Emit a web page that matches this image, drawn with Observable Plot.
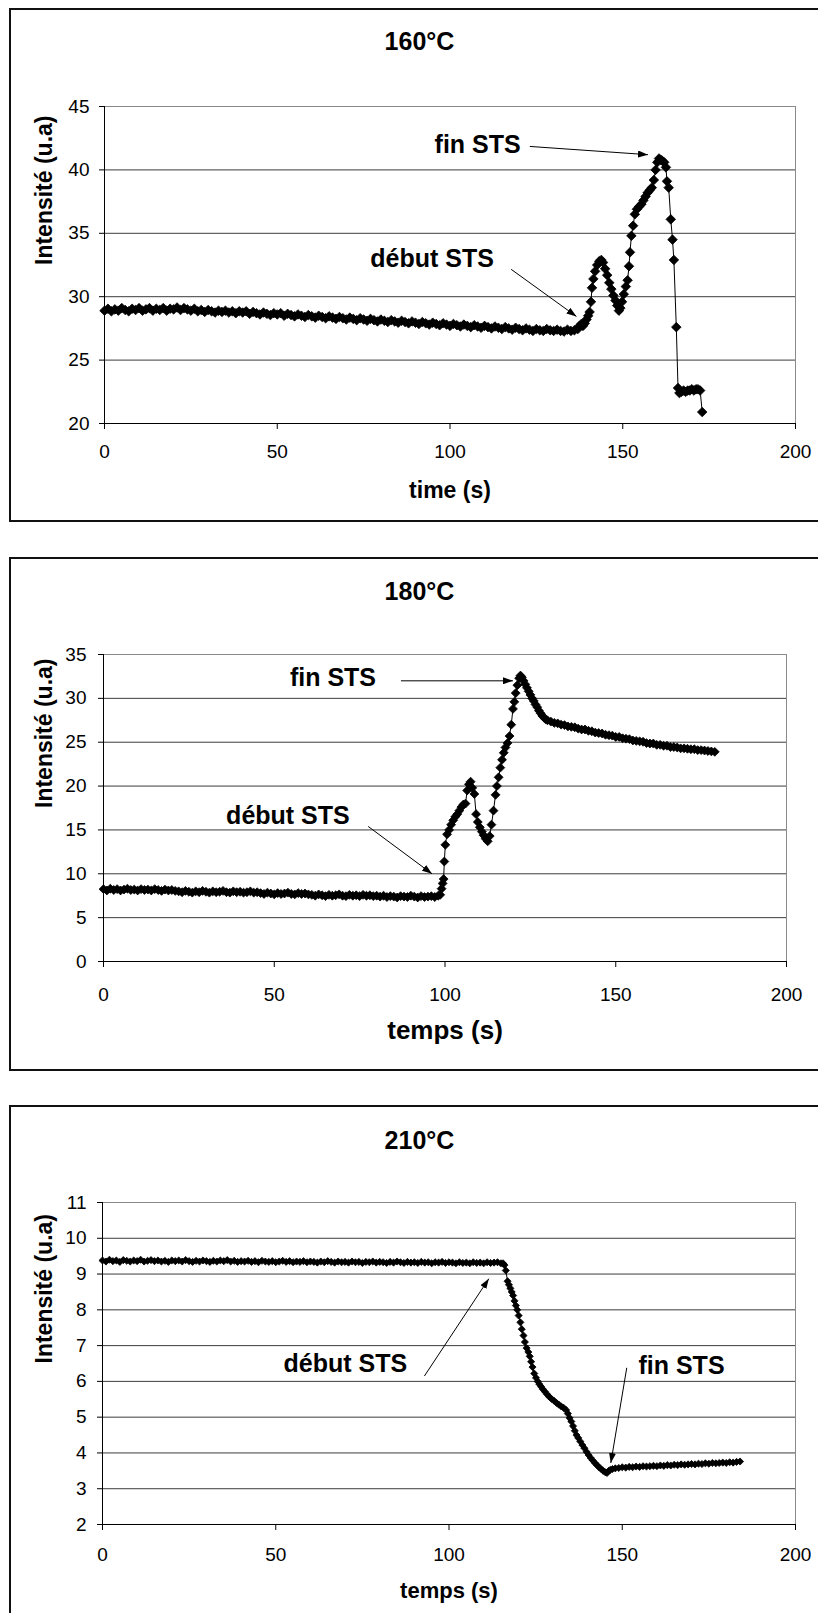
<!DOCTYPE html>
<html><head><meta charset="utf-8">
<script src="https://cdn.jsdelivr.net/npm/d3@7"></script>
<script src="https://cdn.jsdelivr.net/npm/@observablehq/plot@0.6"></script>
<style>
html,body{margin:0;padding:0;background:#fff;}
#page{position:relative;width:818px;height:1613px;overflow:hidden;font-family:"Liberation Sans",Arial,sans-serif;background:#fff;}
.box{position:absolute;left:9px;width:840px;border:2px solid #111;box-sizing:border-box;z-index:5;pointer-events:none;}
.title{position:absolute;left:0;width:839px;text-align:center;font-weight:bold;font-size:25px;line-height:25px;z-index:6;}
.chart{position:absolute;left:0;z-index:2;}
</style></head><body><div id="page"></div>
<script>
// ---------- shared ticks ----------
const xTicks = [0, 50, 100, 150, 200];

// ---------- 160°C ----------
const title160 = "160°C";
const xLabel160 = "time (s)";
const yLabel160 = "Intensité (u.a)";
const yTicks160 = [20, 25, 30, 35, 40, 45];
const flatStart160 = 0, flatStep160 = 1;
const flat160 = [
 28.9, 29.05, 28.85, 29.0, 28.9, 29.1, 28.95, 28.85, 29.05, 28.95,
 29.1, 28.9, 29.0, 29.1, 28.9, 29.05, 28.95, 29.1, 28.9, 29.05,
 29.0, 29.15, 28.95, 29.1, 29.0, 28.9, 29.05, 28.85, 28.95, 28.8,
 28.95, 28.85, 28.75, 28.9, 28.8, 28.9, 28.75, 28.85, 28.7, 28.85,
 28.75, 28.85, 28.65, 28.8, 28.7, 28.6, 28.75, 28.65, 28.55, 28.7,
 28.6, 28.7, 28.5, 28.65, 28.55, 28.45, 28.6, 28.5, 28.4, 28.55,
 28.45, 28.35, 28.5, 28.4, 28.3, 28.45, 28.35, 28.25, 28.4, 28.3,
 28.2, 28.35, 28.25, 28.15, 28.3, 28.2, 28.1, 28.25, 28.15, 28.05,
 28.2, 28.1, 28.0, 28.15, 28.05, 27.95, 28.1, 28.0, 27.9, 28.05,
 27.95, 27.85, 28.0, 27.9, 27.8, 27.95, 27.85, 27.75, 27.9, 27.8,
 27.7, 27.85, 27.75, 27.65, 27.8, 27.7, 27.6, 27.75, 27.65, 27.55,
 27.7, 27.6, 27.5, 27.65, 27.55, 27.45, 27.6, 27.5, 27.4, 27.55,
 27.45, 27.35, 27.5, 27.4, 27.3, 27.45, 27.35, 27.3, 27.45, 27.35,
 27.3, 27.4, 27.3, 27.25, 27.4, 27.3, 27.35];
const fastT160 = [137, 137.5, 138, 138.5, 139, 139.5, 140, 140.4, 140.8, 141.1, 141.5, 142, 142.6, 143.2, 143.8, 144.3, 144.9,
 145.5, 146.1, 146.7, 147.3, 147.9, 148.4, 148.9, 149.3, 149.8, 150.3, 150.9, 151.4, 151.8, 152.1, 152.5,
 153.0, 153.5, 154.1, 154.7, 155.4, 156.0, 156.6, 157.2, 157.8, 158.4, 159.0, 159.5, 160.0, 160.5, 161.0,
 161.5, 162.0, 162.5, 162.8, 163.3, 163.9, 164.4, 164.8, 165.5, 166.0, 166.4, 167.0, 167.6, 168.2, 168.8,
 169.4, 170.0, 170.6, 171.2, 171.8, 172.4, 173.0];
const fastV160 = [27.45, 27.7, 27.85, 27.7, 27.9, 28.2, 28.5, 28.8, 29.6, 30.7, 31.4, 32.0, 32.5, 32.8, 32.9, 32.7, 32.2,
 31.7, 31.1, 30.6, 30.1, 29.7, 29.3, 28.9, 29.1, 29.6, 30.2, 30.8, 31.3, 32.4, 33.5, 34.8,
 35.6, 36.5, 36.9, 37.1, 37.3, 37.6, 37.9, 38.2, 38.4, 38.6, 39.2, 40.0, 40.6, 40.9, 40.8,
 40.7, 40.6, 40.2, 39.1, 38.6, 36.1, 34.5, 32.9, 27.6, 22.8, 22.4, 22.5, 22.6, 22.5, 22.6,
 22.6, 22.7, 22.6, 22.7, 22.7, 22.6, 20.9];
const notes160 = [{label: "fin STS", t: 108, v: 42.0}, {label: "début STS", t: 94.8, v: 33.0}];
const arrows160 = [{t1: 123.1, v1: 41.85, t2: 157.3, v2: 41.2}, {t1: 117.7, v1: 32.16, t2: 136.6, v2: 28.44}];

// ---------- 180°C ----------
const title180 = "180°C";
const xLabel180 = "temps (s)";
const yLabel180 = "Intensité (u.a)";
const yTicks180 = [0, 5, 10, 15, 20, 25, 30, 35];
const flatStart180 = 0, flatStep180 = 1;
const flat180 = [
 8.25, 8.1, 8.3, 8.15, 8.25, 8.1, 8.2, 8.3, 8.15, 8.2, 8.1, 8.25, 8.15, 8.2, 8.1, 8.25, 8.15, 8.05, 8.2, 8.1, 8.15, 8.05,
 8.0, 7.9, 8.05, 7.95, 7.85, 8.0, 7.9, 8.05, 7.95, 7.85, 8.0, 7.9, 7.95, 8.05, 7.9, 7.85, 8.0, 7.9, 7.95, 7.85, 7.9, 8.0, 7.85, 7.9,
 7.8, 7.7, 7.85, 7.75, 7.65, 7.8, 7.7, 7.75, 7.85, 7.7, 7.65, 7.8, 7.7, 7.75, 7.65,
 7.6, 7.5, 7.65, 7.55, 7.45, 7.6, 7.5, 7.55, 7.65, 7.5, 7.45, 7.6, 7.5, 7.55, 7.45, 7.6, 7.5, 7.55, 7.45, 7.5,
 7.4, 7.5, 7.35, 7.45, 7.4, 7.3, 7.45, 7.4, 7.35, 7.5, 7.4, 7.3, 7.45, 7.35, 7.4, 7.45, 7.35, 7.5];
const fastT180 = [98.6, 99.0, 99.3, 99.6, 99.8, 100.1, 100.6, 101.2, 101.8, 102.4, 103.0, 103.6, 104.2, 104.8, 105.4,
 106.0, 106.5, 107.0, 107.5, 108.0, 108.6, 109.1, 109.6, 110.2, 110.8, 111.3, 111.9, 112.5, 113.1, 113.6,
 114.2, 114.8, 115.2, 115.7, 116.2, 116.7, 117.2, 117.7, 118.3, 118.9, 119.4, 119.9, 120.3, 120.7, 121.2,
 121.7, 122.1, 122.5, 123.0, 123.5, 124.0, 124.5, 125.0, 125.5, 126.0, 126.5, 127.0, 127.5, 128.0, 128.5,
 129.0, 129.5, 130.0];
const fastV180 = [7.6, 8.3, 8.9, 9.4, 11.4, 13.3, 14.5, 15.0, 15.6, 16.1, 16.5, 16.8, 17.2, 17.6, 17.9,
 18.0, 19.5, 20.2, 20.5, 19.8, 19.1, 16.8, 15.9, 15.3, 14.8, 14.4, 14.0, 13.7, 14.3, 15.6,
 17.2, 19.0, 20.0, 21.0, 22.1, 23.0, 23.8, 24.4, 24.9, 25.7, 27.0, 28.8, 29.6, 30.6, 31.5,
 32.3, 32.6, 32.4, 32.0, 31.6, 31.2, 30.8, 30.4, 30.0, 29.7, 29.3, 29.0, 28.6, 28.3, 28.0,
 27.8, 27.6, 27.5];
const tailStart180 = 131, tailStep180 = 1;
const tail180 = [27.35, 27.2, 27.15, 27.0, 26.95, 26.8, 26.75, 26.7, 26.55, 26.45,
 26.45, 26.3, 26.25, 26.1, 26.05, 26.0, 25.85, 25.8, 25.75, 25.6,
 25.6, 25.45, 25.4, 25.35, 25.2, 25.15, 25.1, 25.05, 24.9, 24.85,
 24.85, 24.7, 24.7, 24.6, 24.6, 24.45, 24.45, 24.4, 24.3, 24.3,
 24.25, 24.2, 24.2, 24.1, 24.1, 24.05, 24.0, 23.95, 23.9];
const notes180 = [{label: "fin STS", t: 67.2, v: 32.3}, {label: "début STS", t: 54.0, v: 16.56}];
const arrows180 = [{t1: 87.1, v1: 32.0, t2: 119.9, v2: 32.0}, {t1: 77.5, v1: 15.4, t2: 96.2, v2: 10.0}];

// ---------- 210°C ----------
const title210 = "210°C";
const xLabel210 = "temps (s)";
const yLabel210 = "Intensité (u.a)";
const yTicks210 = [2, 3, 4, 5, 6, 7, 8, 9, 10, 11];
const flatStart210 = 0, flatStep210 = 1;
const flat210 = [
 9.38, 9.35, 9.4, 9.36, 9.38, 9.34, 9.39, 9.37, 9.35, 9.38, 9.36, 9.4, 9.35, 9.37, 9.39, 9.36, 9.38, 9.35, 9.37, 9.34, 9.38,
 9.36, 9.38, 9.35, 9.39, 9.36, 9.34, 9.37, 9.35, 9.38, 9.36, 9.34, 9.37, 9.35, 9.38, 9.36, 9.39, 9.35, 9.37, 9.34, 9.36,
 9.35, 9.37, 9.34, 9.36, 9.33, 9.37, 9.35, 9.34, 9.36, 9.33, 9.35, 9.37, 9.34, 9.36, 9.33, 9.35, 9.34, 9.36, 9.33, 9.35,
 9.34, 9.32, 9.35, 9.33, 9.36, 9.34, 9.32, 9.35, 9.33, 9.34, 9.32, 9.35, 9.33, 9.34, 9.31, 9.34, 9.33, 9.35, 9.32, 9.34,
 9.33, 9.31, 9.34, 9.32, 9.35, 9.33, 9.31, 9.34, 9.32, 9.33, 9.31, 9.34, 9.32, 9.33, 9.3, 9.33, 9.32, 9.34, 9.31, 9.33,
 9.32, 9.3, 9.33, 9.31, 9.32, 9.3, 9.33, 9.31, 9.32, 9.3, 9.33, 9.31, 9.32, 9.33, 9.3];
const fastT210 = [115.6, 116.0, 116.4, 116.9, 117.3, 117.7, 118.1, 118.5, 118.9, 119.3, 119.7, 120.1, 120.6, 121.0, 121.5,
 121.9, 122.4, 122.9, 123.3, 123.7, 124.1, 124.6, 125.1, 125.6, 126.1, 126.6, 127.1, 127.7, 128.3, 128.9,
 129.6, 130.3, 131.0, 131.7, 132.4, 133.1, 133.8, 134.3, 134.8, 135.3, 135.8, 136.3, 136.8, 137.3, 137.9,
 138.5, 139.1, 139.7, 140.3, 140.9, 141.5, 142.1, 142.7, 143.3, 143.9, 144.5, 145.1, 145.6, 146.1, 146.6, 147.2];
const fastV210 = [9.3, 9.25, 9.1, 8.8, 8.7, 8.6, 8.5, 8.4, 8.25, 8.12, 8.0, 7.84, 7.65, 7.46, 7.28,
 7.1, 6.93, 6.82, 6.7, 6.55, 6.4, 6.22, 6.1, 6.0, 5.92, 5.85, 5.78, 5.71, 5.64, 5.57,
 5.51, 5.46, 5.4, 5.35, 5.3, 5.26, 5.2, 5.1, 4.98, 4.88, 4.75, 4.62, 4.5, 4.42, 4.32,
 4.22, 4.13, 4.03, 3.94, 3.86, 3.79, 3.72, 3.66, 3.6, 3.55, 3.5, 3.46, 3.44, 3.5, 3.53, 3.55];
const tailStart210 = 148, tailStep210 = 1;
const tail210 = [3.57, 3.58, 3.6, 3.59, 3.61, 3.6, 3.62, 3.61, 3.63, 3.62, 3.63, 3.64, 3.63, 3.65, 3.64, 3.66, 3.65, 3.67, 3.66,
 3.68, 3.67, 3.68, 3.69, 3.68, 3.7, 3.69, 3.71, 3.7, 3.72, 3.71, 3.72, 3.73, 3.72, 3.74, 3.73, 3.75, 3.76];
const notes210 = [{label: "début STS", t: 70.1, v: 6.48}, {label: "fin STS", t: 167.1, v: 6.44}];
const arrows210 = [{t1: 92.9, v1: 6.15, t2: 111.5, v2: 8.87}, {t1: 151.3, v1: 6.38, t2: 146.7, v2: 3.72}];

// ---------- build ----------
function buildSeries(fs, fstep, fv, mt, mv, ts, tstep, tv) {
  const out = [];
  fv.forEach((v, i) => out.push({t: fs + i * fstep, v}));
  mt.forEach((t, i) => out.push({t, v: mv[i]}));
  if (tv) tv.forEach((v, i) => out.push({t: ts + i * tstep, v}));
  return out;
}
const data160 = buildSeries(flatStart160, flatStep160, flat160, fastT160, fastV160);
const data180 = buildSeries(flatStart180, flatStep180, flat180, fastT180, fastV180, tailStart180, tailStep180, tail180);
const data210 = buildSeries(flatStart210, flatStep210, flat210, fastT210, fastV210, tailStart210, tailStep210, tail210);

const FONT = '"Liberation Sans", Arial, sans-serif';
const page = document.getElementById("page");

function addArrowHeads(svg, id) {
  const ns = "http://www.w3.org/2000/svg";
  const defs = document.createElementNS(ns, "defs");
  const m = document.createElementNS(ns, "marker");
  m.setAttribute("id", id);
  m.setAttribute("viewBox", "0 0 10 7");
  m.setAttribute("refX", "10"); m.setAttribute("refY", "3.5");
  m.setAttribute("markerWidth", "10"); m.setAttribute("markerHeight", "7");
  m.setAttribute("markerUnits", "userSpaceOnUse"); m.setAttribute("orient", "auto");
  const p = document.createElementNS(ns, "path");
  p.setAttribute("d", "M0,0L10,3.5L0,7z"); p.setAttribute("fill", "#000");
  m.appendChild(p); defs.appendChild(m); svg.insertBefore(defs, svg.firstChild);
  svg.querySelectorAll('g[aria-label="link"] path').forEach(el => el.setAttribute("marker-end", `url(#${id})`));
}

function drawPanel(o) {
  const box = document.createElement("div");
  box.className = "box"; box.style.top = o.boxTop + "px"; box.style.height = o.boxH + "px";
  page.appendChild(box);
  const ttl = document.createElement("div");
  ttl.className = "title"; ttl.style.top = (o.titleY - 12) + "px"; ttl.textContent = o.title;
  page.appendChild(ttl);
  const svg = Plot.plot({
    width: 818, height: o.h,
    marginLeft: o.ml, marginRight: o.mr, marginTop: o.mt, marginBottom: o.mb,
    x: {domain: [0, 200], label: null},
    y: {domain: [o.yTicks[0], o.yTicks[o.yTicks.length - 1]], label: null},
    style: {fontFamily: FONT, color: "#000", background: "transparent", overflow: "visible"},
    marks: [
      Plot.gridY(o.yTicks, {stroke: "#3c3c3c", strokeOpacity: 1}),
      Plot.ruleY([o.yTicks[o.yTicks.length - 1]], {stroke: "#8a8a8a"}),
      Plot.ruleX([200], {stroke: "#8a8a8a"}),
      Plot.ruleX([0], {stroke: "#000"}),
      Plot.ruleY([o.yTicks[0]], {stroke: "#000"}),
      Plot.axisX(xTicks, {tickSize: 6, tickPadding: o.xPad, fontSize: 19, label: null}),
      Plot.axisY(o.yTicks, {tickSize: 5, tickPadding: o.yPad, fontSize: 19, label: null}),
      Plot.line(o.data, {x: "t", y: "v", stroke: "#000", strokeWidth: 1}),
      Plot.dot(o.data, {x: "t", y: "v", symbol: "diamond2", r: o.r, fill: "#000", stroke: "#000", strokeWidth: 0.8}),
      Plot.link(o.arrows, {x1: "t1", y1: "v1", x2: "t2", y2: "v2", stroke: "#000", strokeWidth: 1}),
      Plot.text(o.notes, {x: "t", y: "v", text: "label", fontSize: 25, fontWeight: "bold", lineAnchor: "middle"}),
      Plot.text([o.yLabel], {text: d => d, frameAnchor: "left", dx: 44 - o.ml, rotate: -90, fontSize: 23, fontWeight: "bold", lineAnchor: "middle"}),
      Plot.text([o.xLabel], {text: d => d, frameAnchor: "bottom", dy: o.xLabDy, fontSize: o.xLabSize, fontWeight: "bold", lineAnchor: "middle"})
    ]
  });
  svg.classList.add("chart");
  svg.style.top = o.boxTop + "px";
  addArrowHeads(svg, "ah" + o.title.slice(0, 3));
  page.appendChild(svg);
}

drawPanel({title: title160, boxTop: 8, boxH: 514, titleY: 41, h: 514, ml: 104, mr: 23, mt: 98, mb: 99,
  yTicks: yTicks160, xPad: 15, yPad: 10, r: 4.3, data: data160, notes: notes160, arrows: arrows160,
  yLabel: yLabel160, xLabel: xLabel160, xLabDy: 67, xLabSize: 23});
drawPanel({title: title180, boxTop: 557, boxH: 514, titleY: 591, h: 514, ml: 103, mr: 32, mt: 97, mb: 110,
  yTicks: yTicks180, xPad: 20, yPad: 12, r: 4.0, data: data180, notes: notes180, arrows: arrows180,
  yLabel: yLabel180, xLabel: xLabel180, xLabDy: 69, xLabSize: 26});
drawPanel({title: title210, boxTop: 1105, boxH: 540, titleY: 1140, h: 508, ml: 102, mr: 23, mt: 97, mb: 89,
  yTicks: yTicks210, xPad: 17, yPad: 11, r: 3.2, data: data210, notes: notes210, arrows: arrows210,
  yLabel: yLabel210, xLabel: xLabel210, xLabDy: 66, xLabSize: 22});
</script></body></html>
